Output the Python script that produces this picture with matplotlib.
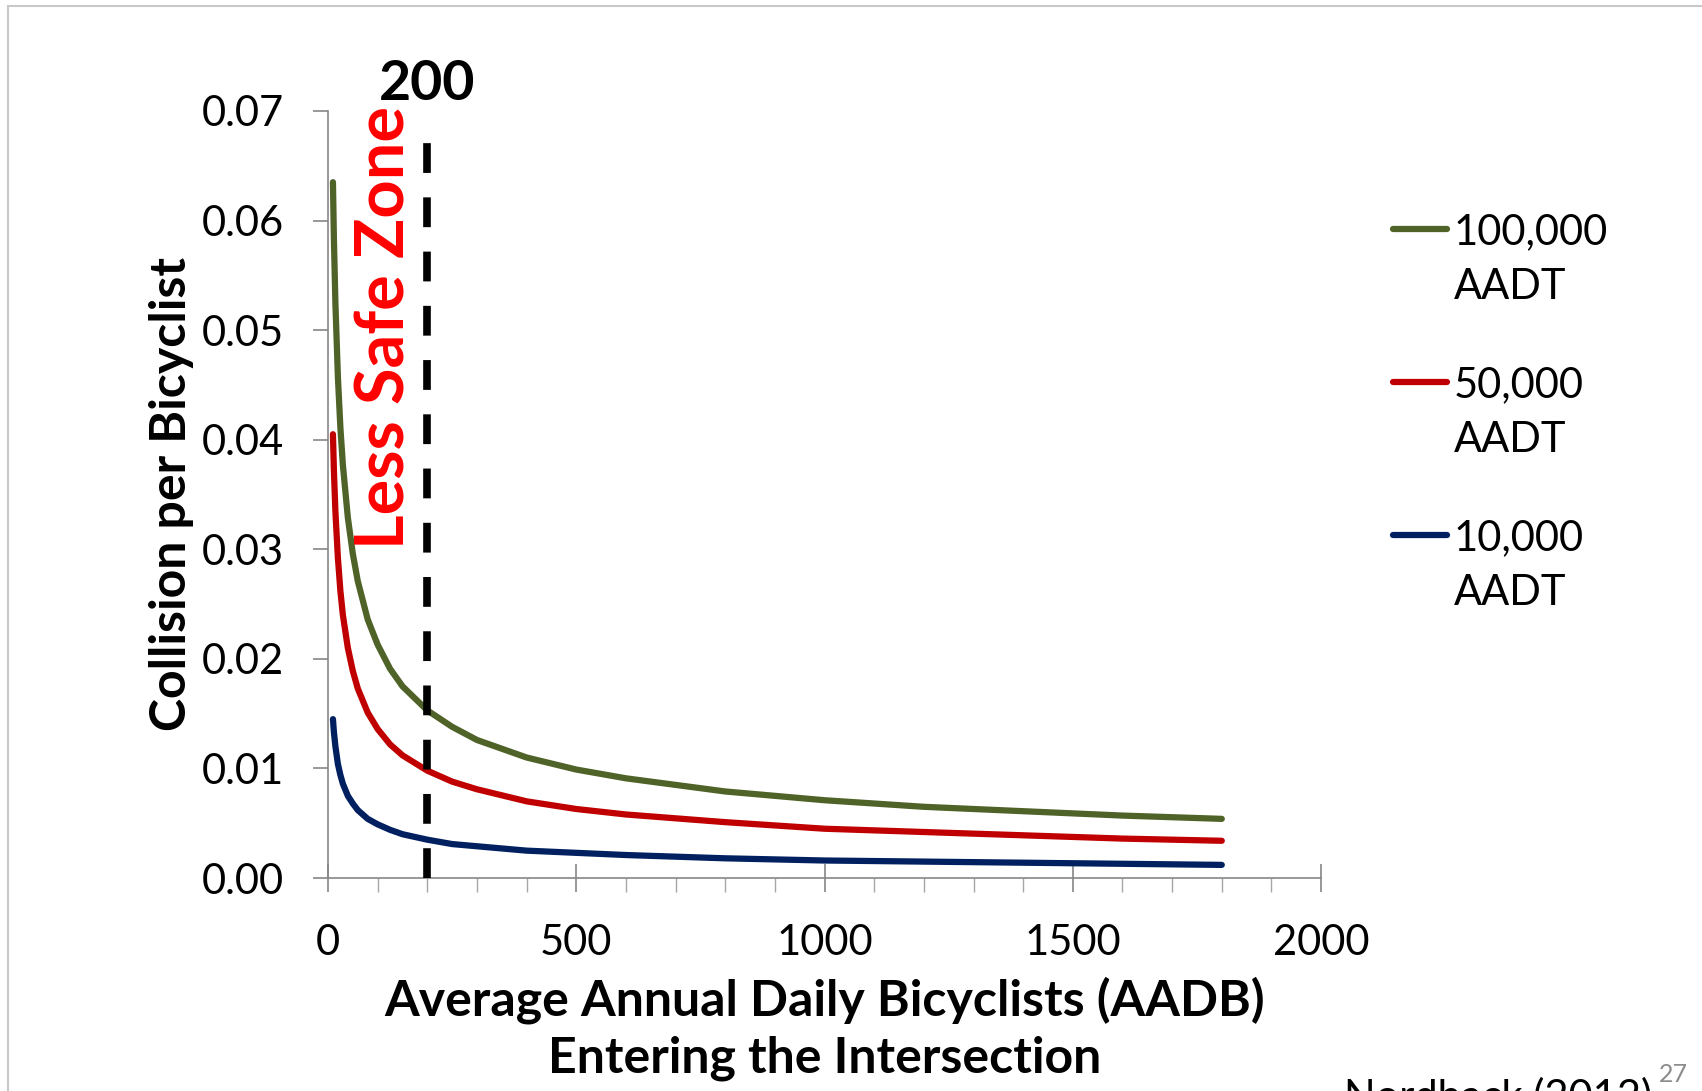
import numpy as np
import matplotlib.pyplot as plt
from matplotlib.patches import Rectangle

plt.rcParams['font.family'] = ['Lato', 'DejaVu Sans']

# Data
aadb = [10, 12, 15, 20, 25, 30, 40, 50, 60, 80, 100, 125, 150, 200, 250,
        300, 400, 500, 600, 800, 1000, 1200, 1400, 1600, 1800]
aadt_100k = [0.0635, 0.0582, 0.0524, 0.0457, 0.0411, 0.0377, 0.0329, 0.0296,
             0.0271, 0.0236, 0.0213, 0.0191, 0.0175, 0.0153, 0.0138, 0.0126,
             0.0110, 0.0099, 0.0091, 0.0079, 0.0071, 0.0065, 0.0061, 0.0057,
             0.0054]
aadt_50k = [0.0405, 0.0371, 0.0334, 0.0292, 0.0262, 0.0240, 0.0210, 0.0189,
            0.0173, 0.0151, 0.0136, 0.0122, 0.0112, 0.0098, 0.0088, 0.0081,
            0.0070, 0.0063, 0.0058, 0.0051, 0.0045, 0.0042, 0.0039, 0.0036,
            0.0034]
aadt_10k = [0.0145, 0.0133, 0.0120, 0.0104, 0.0094, 0.0086, 0.0075, 0.0068,
            0.0062, 0.0054, 0.0049, 0.0044, 0.0040, 0.0035, 0.0031, 0.0029,
            0.0025, 0.0023, 0.0021, 0.0018, 0.0016, 0.0015, 0.0014, 0.0013,
            0.0012]
series_labels = ['100,000', '50,000', '10,000']
series_colors = ['#4F6228', '#C00000', '#002060']
threshold = 200
threshold_top = 0.069

xticks = [0, 500, 1000, 1500, 2000]
yticks = [0.00, 0.01, 0.02, 0.03, 0.04, 0.05, 0.06, 0.07]

fig = plt.figure(figsize=(17.02, 10.91), dpi=100)
ax = fig.add_axes([0.1927, 0.1952, 0.5835, 0.7031])

lines = []
for vals, lab, col in zip([aadt_100k, aadt_50k, aadt_10k], series_labels, series_colors):
    ln, = ax.plot(aadb, vals, color=col, lw=4.5, label=lab,
                  solid_capstyle='round', solid_joinstyle='round', zorder=3)
    lines.append(ln)

# threshold line
ax.plot([threshold, threshold], [0, threshold_top], color='black', lw=5.5,
        linestyle=(0, (3.9, 3.2)), zorder=4, clip_on=False)
ax.text(threshold, 0.0725, '200', ha='center', va='center', fontsize=40,
        fontweight='bold', color='black')
ax.text(115, 0.0502, 'Less Safe Zone', rotation=90, ha='center', va='center',
        fontsize=48, fontweight='bold', color='#FF0000')

ax.set_xlim(0, 2000)
ax.set_ylim(0, 0.07)
ax.set_xticks(xticks)
ax.set_xticks(np.arange(0, 2001, 100), minor=True)
ax.set_yticks(yticks)
ax.set_yticklabels(['%.2f' % v for v in yticks])

for s in ['top', 'right']:
    ax.spines[s].set_visible(False)
for s in ['left', 'bottom']:
    ax.spines[s].set_color('#868686')
    ax.spines[s].set_linewidth(1.2)

ax.tick_params(axis='y', direction='out', length=10.5, width=1.2,
               color='#868686', labelsize=30, pad=21)
ax.tick_params(axis='x', which='major', direction='inout', length=19.5,
               width=1.2, color='#868686', labelsize=30, pad=23)
ax.tick_params(axis='x', which='minor', direction='out', length=10,
               width=1.0, color='#A6A6A6')

ax.set_xlabel('Average Annual Daily Bicyclists (AADB)\nEntering the Intersection',
              fontsize=36, fontweight='bold', labelpad=11, linespacing=1.3)
ax.set_ylabel('Collision per Bicyclist', fontsize=36, fontweight='bold',
              labelpad=6)

leg = ax.legend(handles=lines, loc='upper left', bbox_to_anchor=(0.8185, 0.805),
                bbox_transform=fig.transFigure, frameon=False, fontsize=30,
                handlelength=1.3, handletextpad=0.15, labelspacing=2.76,
                borderpad=0, borderaxespad=0)

# second line of each legend label
fig.canvas.draw()
inv = fig.transFigure.inverted()
for t in leg.get_texts():
    bb = t.get_window_extent()
    x0, y0 = inv.transform((bb.x0, bb.y0))
    fig.text(x0, y0 - 55 / 1091, 'AADT', fontsize=30, ha='left', va='bottom')

# slide frame, source (cut off at the bottom edge) and page number
fig.patches.append(Rectangle((8 / 1702, -0.1), 1.2, 0.9945 + 0.1,
                             transform=fig.transFigure, fill=False,
                             edgecolor='#C8C8C8', lw=1.5))
fig.text(1652 / 1702, 1 - 1077 / 1091, 'Nordback (2012)', fontsize=30,
         ha='right', va='top')
fig.text(1688 / 1702, 1 - 1075 / 1091, '27', fontsize=18, color='#8C8C8C',
         ha='right', va='center')

fig.savefig('out.png', dpi=100)
